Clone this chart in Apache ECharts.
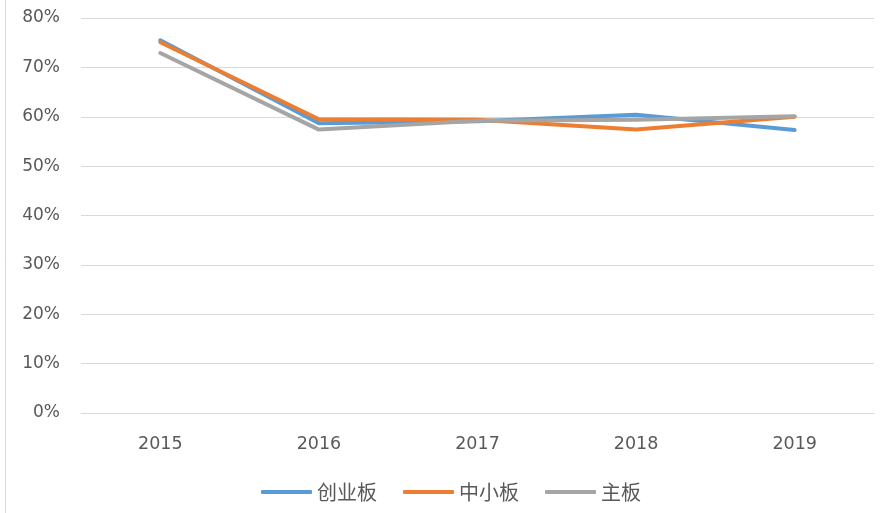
<!DOCTYPE html>
<html><head><meta charset="utf-8">
<script src="https://cdn.jsdelivr.net/npm/echarts@6/dist/echarts.min.js"></script>
<style>html,body{margin:0;padding:0;background:#fff}#c{width:882px;height:513px}</style>
</head><body><div id="c"></div>
<script>
const categories = ['2015','2016','2017','2018','2019'];
const chuangyeban = [75.5, 58.7, 59.1, 60.4, 57.3];
const zhongxiaoban = [75.1, 59.5, 59.4, 57.4, 60.0];
const zhuban = [72.9, 57.4, 59.2, 59.4, 60.1];
const seriesNames = ['创业板','中小板','主板'];
const colors = ['#5B9BD5','#ED7D31','#A5A5A5'];
const yMin = 0, yMax = 80, yStep = 10;

const chart = echarts.init(document.getElementById('c'));
const font = '"Noto Sans CJK SC", "Liberation Sans", sans-serif';
const numFont = '"DejaVu Sans", sans-serif';
function mk(name, data, i){
  return {name, type:'line', data, symbol:'none', color:colors[i],
    lineStyle:{width:4, color:colors[i], cap:'round', join:'round'}, z: 3+i};
}
chart.setOption({
  animation:false,
  textStyle:{fontFamily:font},
  grid:{left:81, right:8, top:18, bottom:100, containLabel:false},
  graphic:[{type:'line', shape:{x1:5.5,y1:0,x2:5.5,y2:513}, style:{stroke:'#D9D9D9', lineWidth:1}}],
  legend:{bottom:6, left:256, itemWidth:51, itemHeight:4, itemGap:26,
    icon:'roundRect',
    textStyle:{color:'#595959', fontSize:20, fontFamily:font},
    data:seriesNames},
  xAxis:{type:'category', data:categories, boundaryGap:true,
    axisLine:{show:true, lineStyle:{color:'#D9D9D9'}}, axisTick:{show:false},
    axisLabel:{color:'#595959', fontSize:17.5, margin:22, fontFamily:numFont}},
  yAxis:{type:'value', min:yMin, max:yMax, interval:yStep,
    axisLine:{show:false}, axisTick:{show:false},
    splitLine:{lineStyle:{color:'#D9D9D9'}},
    axisLabel:{color:'#595959', fontSize:17, margin:21, formatter:v=>v+'%', fontFamily:numFont}},
  series:[mk(seriesNames[0], chuangyeban, 0), mk(seriesNames[1], zhongxiaoban, 1), mk(seriesNames[2], zhuban, 2)]
});
</script></body></html>
